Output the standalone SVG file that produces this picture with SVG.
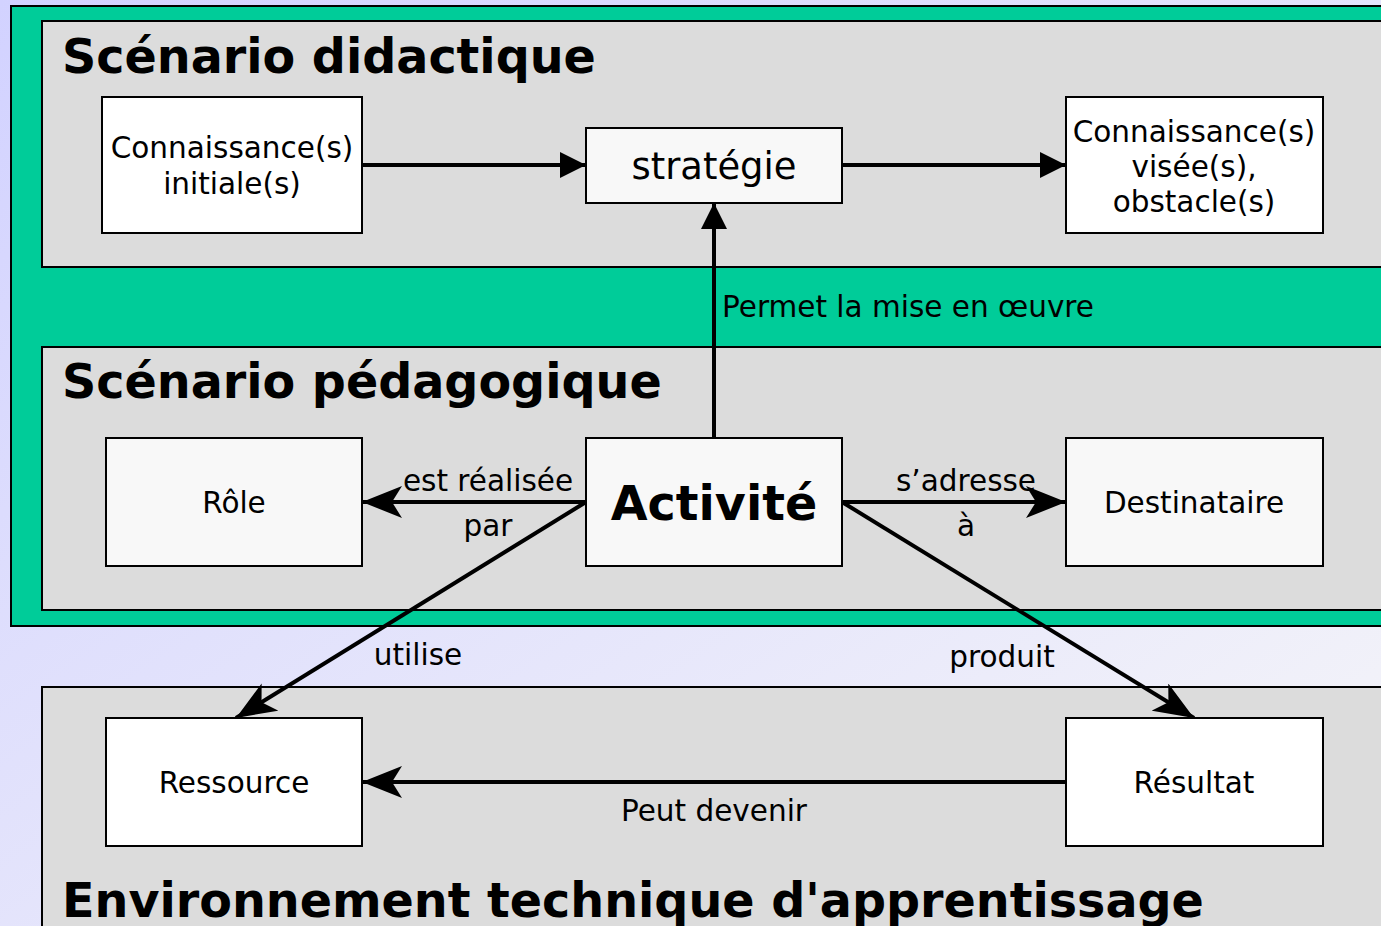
<svg xmlns="http://www.w3.org/2000/svg" width="1381" height="926" viewBox="0 0 1381 926">
  <defs>
    <linearGradient id="bg" x1="0" y1="0" x2="1" y2="1">
      <stop offset="0" stop-color="#d2d2ff"/>
      <stop offset="1" stop-color="#f6f6f8"/>
    </linearGradient>
    <marker id="tri" viewBox="0 0 10 10" refX="10" refY="5" markerWidth="26" markerHeight="26" markerUnits="userSpaceOnUse" orient="auto">
      <path d="M0,0 L10,5 L0,10 Z" fill="#000"/>
    </marker>
    <marker id="classic" viewBox="0 0 40 32" refX="40" refY="16" markerWidth="40" markerHeight="32" markerUnits="userSpaceOnUse" orient="auto">
      <path d="M0,0 L40,16 L0,32 L10,16 Z" fill="#000"/>
    </marker>
  </defs>
  <style>
    .panel { fill: #dcdcdc; stroke: #000; stroke-width: 2; }
    .box { stroke: #000; stroke-width: 2; }
    .w { fill: #ffffff; }
    .g { fill: #f8f8f8; }
    .title { font-family: "DejaVu Sans", Verdana, sans-serif; font-weight: bold; font-size: 47.6px; fill: #000; }
    .t { font-family: "DejaVu Sans", Verdana, sans-serif; font-size: 29.5px; fill: #000; text-anchor: middle; }
    .lbl { font-family: "DejaVu Sans", Verdana, sans-serif; font-size: 29.5px; fill: #000; }
    .edge { stroke: #000; stroke-width: 4; fill: none; }
  </style>

  <!-- page background -->
  <rect x="0" y="0" width="1381" height="926" fill="url(#bg)"/>

  <!-- scenario frame -->
  <rect x="11" y="6" width="1380" height="620" fill="#00cc99" stroke="#000" stroke-width="2"/>

  <!-- panels -->
  <g id="panel-didactique">
    <rect class="panel" x="42" y="21" width="1350" height="246"/>
    <text class="title" x="62" y="73">Scénario didactique</text>
  </g>
  <g id="panel-pedagogique">
    <rect class="panel" x="42" y="347" width="1350" height="263"/>
    <text class="title" x="62" y="398">Scénario pédagogique</text>
  </g>
  <g id="panel-environnement">
    <rect class="panel" x="42" y="687" width="1350" height="260"/>
    <text class="title" x="62" y="917">Environnement technique d'apprentissage</text>
  </g>

  <!-- connectors -->
  <g id="connectors">
    <line class="edge" x1="362" y1="165" x2="586" y2="165" marker-end="url(#tri)"/>
    <line class="edge" x1="842" y1="165" x2="1066" y2="165" marker-end="url(#tri)"/>
    <line class="edge" x1="714" y1="438" x2="714" y2="203" marker-end="url(#tri)"/>
    <line class="edge" x1="586" y1="502" x2="362" y2="502" marker-end="url(#classic)"/>
    <line class="edge" x1="842" y1="502" x2="1066" y2="502" marker-end="url(#classic)"/>
    <line class="edge" x1="586" y1="502" x2="236" y2="718" marker-end="url(#classic)"/>
    <line class="edge" x1="842" y1="502" x2="1194" y2="718" marker-end="url(#classic)"/>
    <line class="edge" x1="1066" y1="782" x2="362" y2="782" marker-end="url(#classic)"/>

    <text class="lbl" x="722" y="317">Permet la mise en œuvre</text>
    <text class="t" x="488" y="491">est réalisée</text>
    <text class="t" x="488" y="536">par</text>
    <text class="t" x="966" y="491">s’adresse</text>
    <text class="t" x="966" y="536">à</text>
    <text class="t" x="418" y="665">utilise</text>
    <text class="t" x="1002" y="667">produit</text>
    <text class="t" x="714" y="821">Peut devenir</text>
  </g>

  <!-- nodes -->
  <g id="node-initiale">
    <rect class="box w" x="102" y="97" width="260" height="136"/>
    <text class="t" x="232" y="158">Connaissance(s)</text>
    <text class="t" x="232" y="194">initiale(s)</text>
  </g>
  <g id="node-strategie">
    <rect class="box g" x="586" y="128" width="256" height="75"/>
    <text class="t" x="714" y="179" style="font-size:36.9px">stratégie</text>
  </g>
  <g id="node-visee">
    <rect class="box w" x="1066" y="97" width="257" height="136"/>
    <text class="t" x="1194" y="142">Connaissance(s)</text>
    <text class="t" x="1194" y="177">visée(s),</text>
    <text class="t" x="1194" y="212">obstacle(s)</text>
  </g>
  <g id="node-role">
    <rect class="box g" x="106" y="438" width="256" height="128"/>
    <text class="t" x="234" y="513">Rôle</text>
  </g>
  <g id="node-activite">
    <rect class="box g" x="586" y="438" width="256" height="128"/>
    <text class="t" x="714" y="520" style="font-size:47.6px;font-weight:bold">Activité</text>
  </g>
  <g id="node-destinataire">
    <rect class="box g" x="1066" y="438" width="257" height="128"/>
    <text class="t" x="1194" y="513">Destinataire</text>
  </g>
  <g id="node-ressource">
    <rect class="box w" x="106" y="718" width="256" height="128"/>
    <text class="t" x="234" y="793">Ressource</text>
  </g>
  <g id="node-resultat">
    <rect class="box w" x="1066" y="718" width="257" height="128"/>
    <text class="t" x="1194" y="793">Résultat</text>
  </g>
</svg>
